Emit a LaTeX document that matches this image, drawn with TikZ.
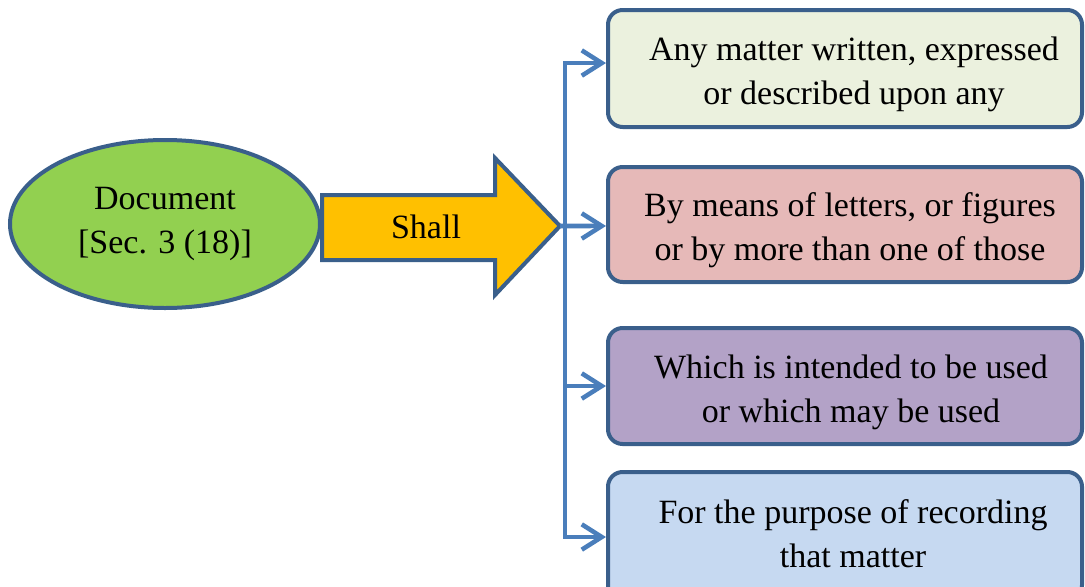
\documentclass[tikz,border=0pt]{standalone}
\usepackage{fontspec}
\setmainfont{Liberation Serif}
\usetikzlibrary{shapes.geometric,arrows.meta}
\definecolor{bord}{HTML}{3A5F8B}
\definecolor{conncol}{HTML}{4A7EBB}
\definecolor{docgreen}{HTML}{92D050}
\definecolor{shallorange}{HTML}{FFC000}
\definecolor{fillA}{HTML}{EBF1DE}
\definecolor{fillB}{HTML}{E6B9B8}
\definecolor{fillC}{HTML}{B3A2C7}
\definecolor{fillD}{HTML}{C6D9F1}
\tikzset{
  txt/.style={font=\fontsize{25.5}{33}\selectfont, align=center, text=black, inner sep=0pt},
  docnode/.style={ellipse, draw=bord, line width=3pt, fill=docgreen, txt,
    minimum width=232.5pt, minimum height=126pt, inner sep=0pt},
  boxnode/.style={rectangle, rounded corners=11pt, draw=bord, line width=3pt,
    minimum width=355.5pt, inner sep=0pt},
  conn/.style={draw=conncol, line width=3.4pt},
  arrowbody/.style={draw=bord, line width=3pt, fill=shallorange, line join=miter}
}
\begin{document}
\begin{tikzpicture}[x=0.75pt,y=-0.75pt]
\useasboundingbox (0,0) rectangle (1085,586);
% left ellipse
\node[docnode] (doc) at (165,224) {Document\\{}[Sec. 3 (18)]};
% block arrow
\draw[arrowbody] (322,195) -- (495,195) -- (495,158) -- (560,226) -- (495,295)
  -- (495,260) -- (322,260) -- cycle;
\coordinate (tip) at (560,226);
\node[txt] (shall) at (426,227) {Shall};
% boxes
\node[boxnode, fill=fillA, minimum height=87.75pt] (b1) at (845,68.5) {};
\node[boxnode, fill=fillB, minimum height=86.25pt] (b2) at (845,224.5) {};
\node[boxnode, fill=fillC, minimum height=87pt] (b3) at (845,386) {};
\node[boxnode, fill=fillD, minimum height=96pt] (b4) at (845,536) {};
\node[txt] (t1) at (854,74.5) {Any matter written, expressed\\or described upon any};
\node[txt] (t2) at (850,230) {By means of letters, or figures\\or by more than one of those};
\node[txt] (t3) at (851,392) {Which is intended to be used\\or which may be used};
\node[txt] (t4) at (853,533.5) {For the purpose of recording\\that matter};
% connectors
\coordinate (j) at (565,226);
\path ([yshift=4.1pt]b1.west) coordinate (e1);
\path ([yshift=-1.1pt]b2.west) coordinate (e2);
\path (b3.west) coordinate (e3);
\path ([yshift=-0.75pt]b4.west) coordinate (e4);
\draw[conn, {Straight Barb[length=15pt,width=19pt]}-{Straight Barb[length=15pt,width=19pt]}, line join=miter]
  (e4) -- (j |- e4) -- (j |- e1) -- (e1);
\draw[conn, -{Straight Barb[length=15pt,width=19pt]}] (tip) -- (e2);
\draw[conn, -{Straight Barb[length=15pt,width=19pt]}] (j |- e3) -- (e3);
\end{tikzpicture}
\end{document}
